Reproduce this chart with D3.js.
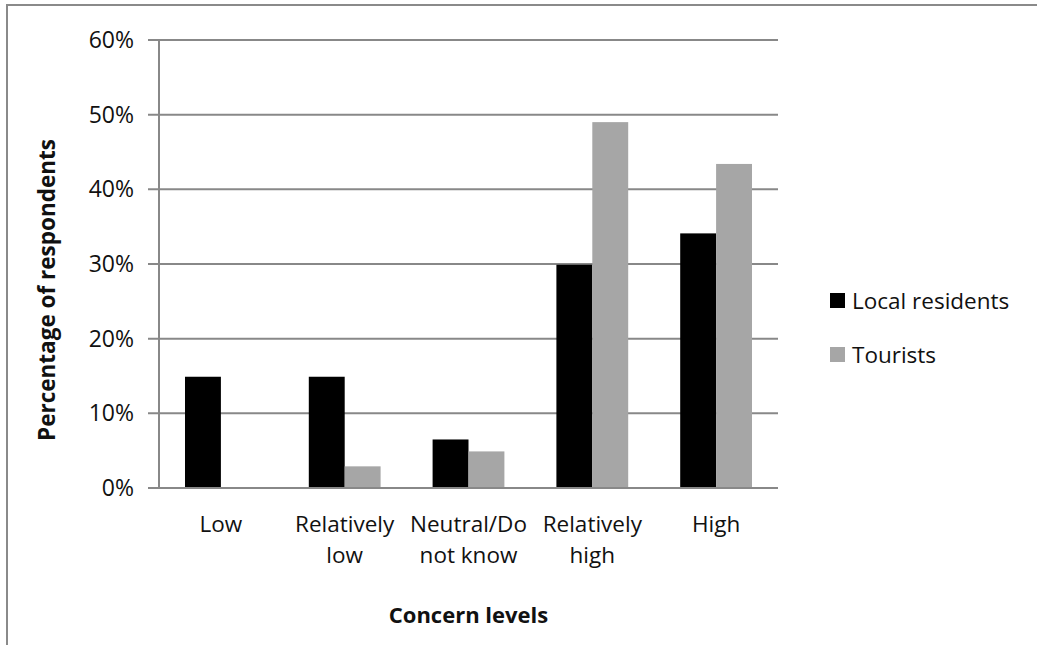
<!DOCTYPE html>
<html lang="en">
<head>
<meta charset="UTF-8">
<title>Concern levels</title>
<script src="https://d3js.org/d3.v7.min.js"></script>
<style>
  body { margin: 0; background: #fff; }
  text { font-family: "Open Sans", "Lato", sans-serif; fill: #111; }
</style>
</head>
<body>
<svg id="chart"></svg>
<script>
// data
const categories = ["Low", "Relatively low", "Neutral/Do not know", "Relatively high", "High"];
const categoryLines = [["Low"], ["Relatively", "low"], ["Neutral/Do", "not know"], ["Relatively", "high"], ["High"]];
const seriesNames = ["Local residents", "Tourists"];
const localResidents = [14.9, 14.9, 6.5, 29.9, 34.1];
const tourists = [0, 2.9, 4.9, 49.0, 43.4];
const yTicks = [0, 10, 20, 30, 40, 50, 60];
const colors = ["#000000", "#a6a6a6"];

const width = 1037, height = 645;
const margin = { top: 40, left: 159, right: 259, bottom: 157 };

const svg = d3.select("#chart").attr("width", width).attr("height", height);

// outer frame
svg.append("rect")
    .attr("x", 7).attr("y", 5)
    .attr("width", width + 20).attr("height", height + 20)
    .attr("fill", "none").attr("stroke", "#8a8a8a").attr("stroke-width", 2);

const x = d3.scaleBand()
    .domain(categories)
    .range([margin.left, width - margin.right])
    .paddingInner(0.42)
    .paddingOuter(0.21);

const xs = d3.scaleBand().domain(seriesNames).range([0, x.bandwidth()]);

const y = d3.scaleLinear().domain([0, 60]).range([height - margin.bottom, margin.top]);

// gridlines
svg.append("g")
    .selectAll("line")
    .data(yTicks)
    .join("line")
    .attr("x1", margin.left - 11).attr("x2", width - margin.right)
    .attr("y1", d => y(d)).attr("y2", d => y(d))
    .attr("stroke", "#888").attr("stroke-width", 2);

// y axis line
svg.append("line")
    .attr("x1", margin.left).attr("x2", margin.left)
    .attr("y1", y(60)).attr("y2", y(0))
    .attr("stroke", "#888").attr("stroke-width", 2);

// y tick labels
svg.append("g")
    .selectAll("text")
    .data(yTicks)
    .join("text")
    .attr("x", margin.left - 25)
    .attr("y", d => y(d))
    .attr("dy", "0.35em")
    .attr("text-anchor", "end")
    .style("font-size", "23px")
    .text(d => d + "%");

// bars
const rows = categories.map((c, i) => ({ cat: c, vals: [localResidents[i], tourists[i]] }));
const groups = svg.append("g")
    .selectAll("g")
    .data(rows)
    .join("g")
    .attr("transform", d => `translate(${x(d.cat)},0)`);

groups.selectAll("rect")
    .data(d => d.vals.map((v, j) => ({ name: seriesNames[j], v, j })))
    .join("rect")
    .attr("x", d => xs(d.name))
    .attr("width", xs.bandwidth())
    .attr("y", d => y(d.v))
    .attr("height", d => y(0) - y(d.v))
    .attr("fill", d => colors[d.j]);

// x axis line on top of bars
svg.append("line")
    .attr("x1", margin.left).attr("x2", width - margin.right)
    .attr("y1", y(0)).attr("y2", y(0))
    .attr("stroke", "#888").attr("stroke-width", 2);

// category labels
const xl = svg.append("g")
    .selectAll("text")
    .data(categories)
    .join("text")
    .attr("text-anchor", "middle")
    .attr("x", d => x(d) + x.bandwidth() / 2)
    .attr("y", y(0) + 44)
    .style("font-size", "22.5px");

xl.selectAll("tspan")
    .data((d, i) => categoryLines[i])
    .join("tspan")
    .attr("x", function () { return this.parentNode.getAttribute("x"); })
    .attr("dy", (d, i) => i === 0 ? 0 : 31)
    .text(d => d);

// axis titles
svg.append("text")
    .attr("x", (margin.left + width - margin.right) / 2)
    .attr("y", 623)
    .attr("text-anchor", "middle")
    .style("font-size", "22px").style("font-weight", "bold")
    .text("Concern levels");

svg.append("text")
    .attr("transform", "translate(55,290) rotate(-90)")
    .attr("text-anchor", "middle")
    .style("font-size", "22.5px").style("font-weight", "bold")
    .text("Percentage of respondents");

// legend
const legend = svg.append("g")
    .selectAll("g")
    .data(seriesNames)
    .join("g")
    .attr("transform", (d, i) => `translate(830,${293 + i * 54})`);

legend.append("rect")
    .attr("width", 15).attr("height", 15)
    .attr("fill", (d, i) => colors[i]);

legend.append("text")
    .attr("x", 22).attr("y", 8)
    .attr("dy", "0.35em")
    .style("font-size", "22.5px")
    .text(d => d);
</script>
</body>
</html>
